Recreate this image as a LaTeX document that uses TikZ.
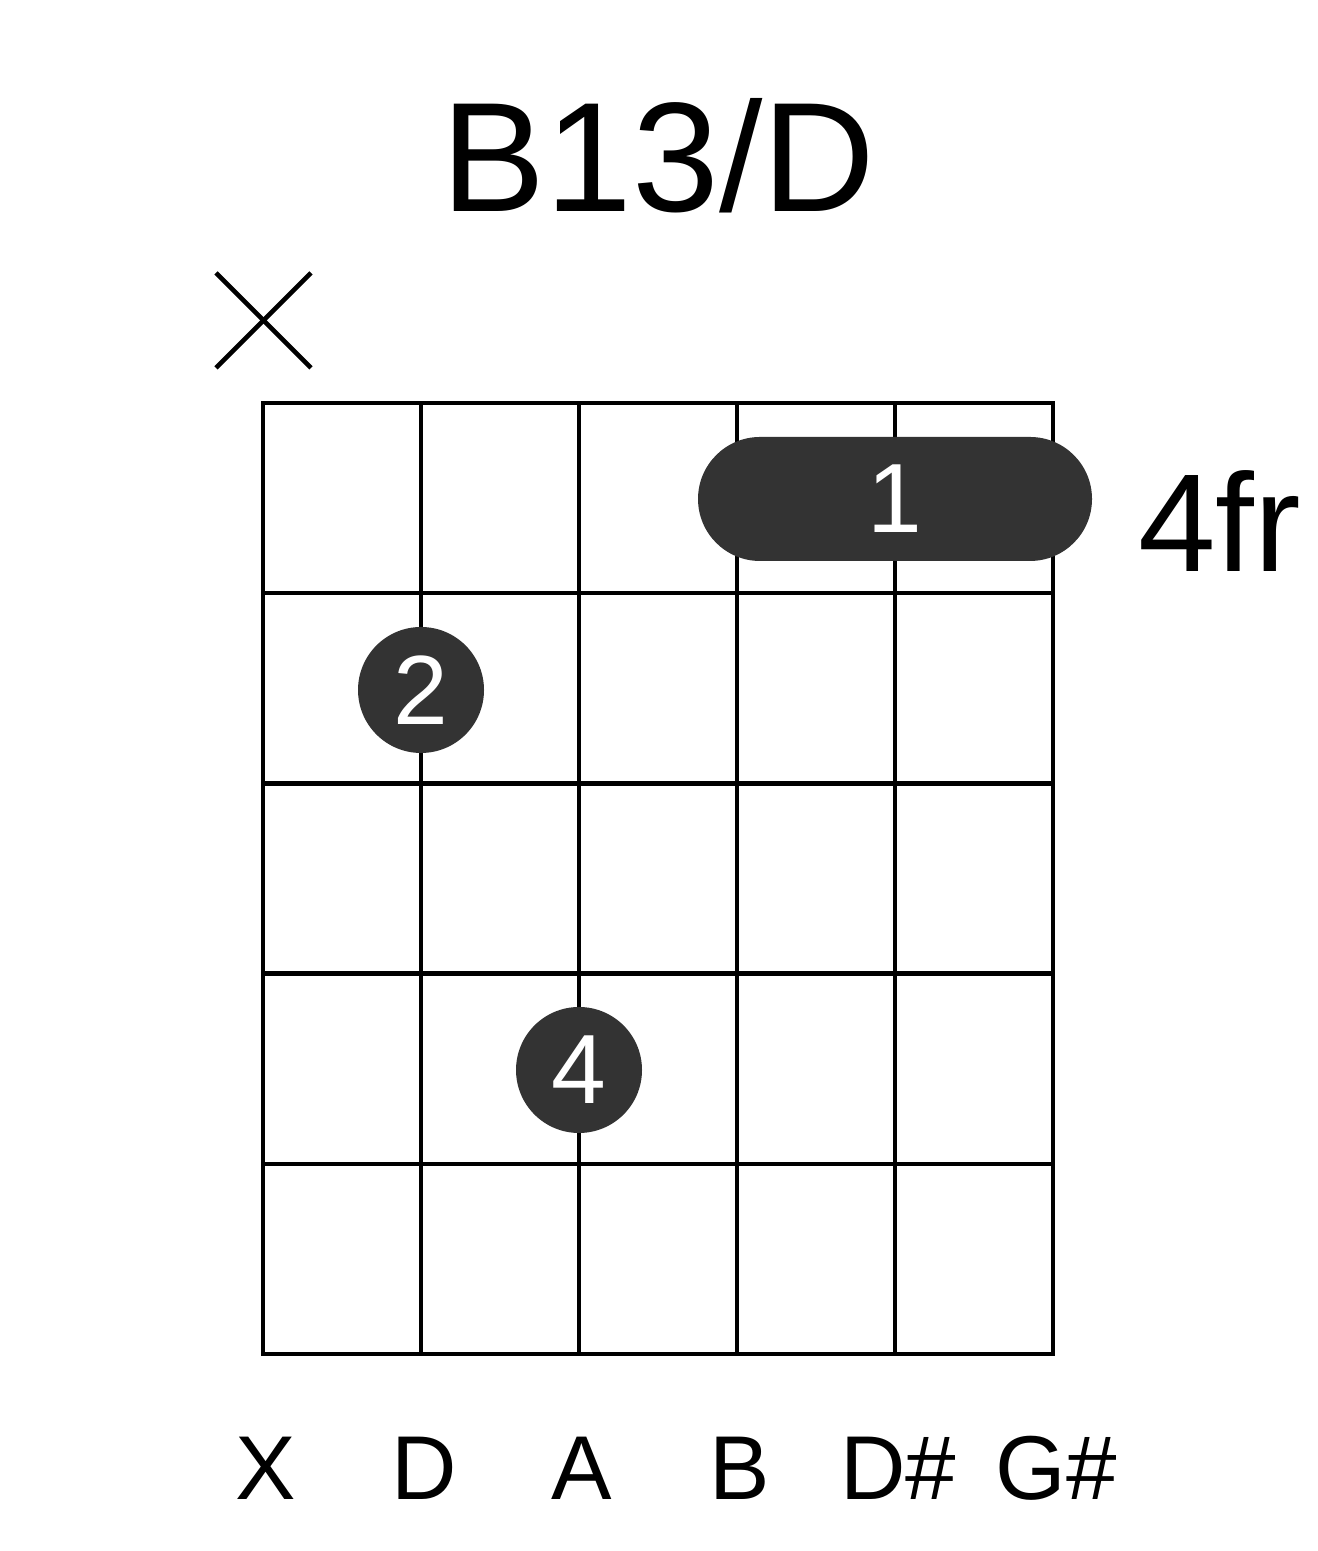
\documentclass[tikz,border=0pt]{standalone}
\usepackage{fontspec}
\setmainfont{Liberation Sans}
\usetikzlibrary{positioning}
\definecolor{dotgray}{HTML}{333333}

\begin{document}
\begin{tikzpicture}[line width=1.3pt,
  fing/.style={circle,fill=dotgray,minimum size=1.26cm,inner sep=0pt,text=white,
    font=\fontsize{28}{30}\selectfont},
  barre/.style={fill=dotgray,rounded corners=0.62cm,minimum width=3.94cm,
    minimum height=1.24cm,inner sep=0pt,text=white,font=\fontsize{28}{30}\selectfont},
  strlab/.style={anchor=base,inner sep=0pt,font=\fontsize{25.8}{28}\selectfont}]
\useasboundingbox (0,0) rectangle (13.17,15.51);
% title
\node[anchor=base,inner sep=0pt,font=\fontsize{44.4}{48}\selectfont] (title) at (6.585,13.39) {B13/D};
% grid
\foreach \i in {1,...,4} {
  \draw (2.63,11.48-1.902*\i) -- (10.53,11.48-1.902*\i);
  \draw (2.63+1.58*\i,11.48) -- (2.63+1.58*\i,1.97);
}
\draw (2.63,1.97) rectangle (10.53,11.48);
% muted string
\coordinate (mute) at (2.635,12.305);
\draw (mute) +(-0.475,0.475) -- +(0.475,-0.475);
\draw (mute) +(-0.475,-0.475) -- +(0.475,0.475);
% fingers
\node[barre] (f1) at (8.95,10.52) {1};
\node[fing] (f2) at (4.21,8.61) {2};
\node[fing] (f4) at (5.79,4.81) {4};
\node[anchor=base west,inner sep=0pt,font=\fontsize{39.7}{42}\selectfont] (fret) at (11.36,9.79) {4fr};
% string names
\foreach \n [count=\i from 0] in {X,D,A,B,D\#,G\#}
  \node[strlab] (lab\i) at (2.66+1.58*\i,0.52) {\n};
\end{tikzpicture}
\end{document}
